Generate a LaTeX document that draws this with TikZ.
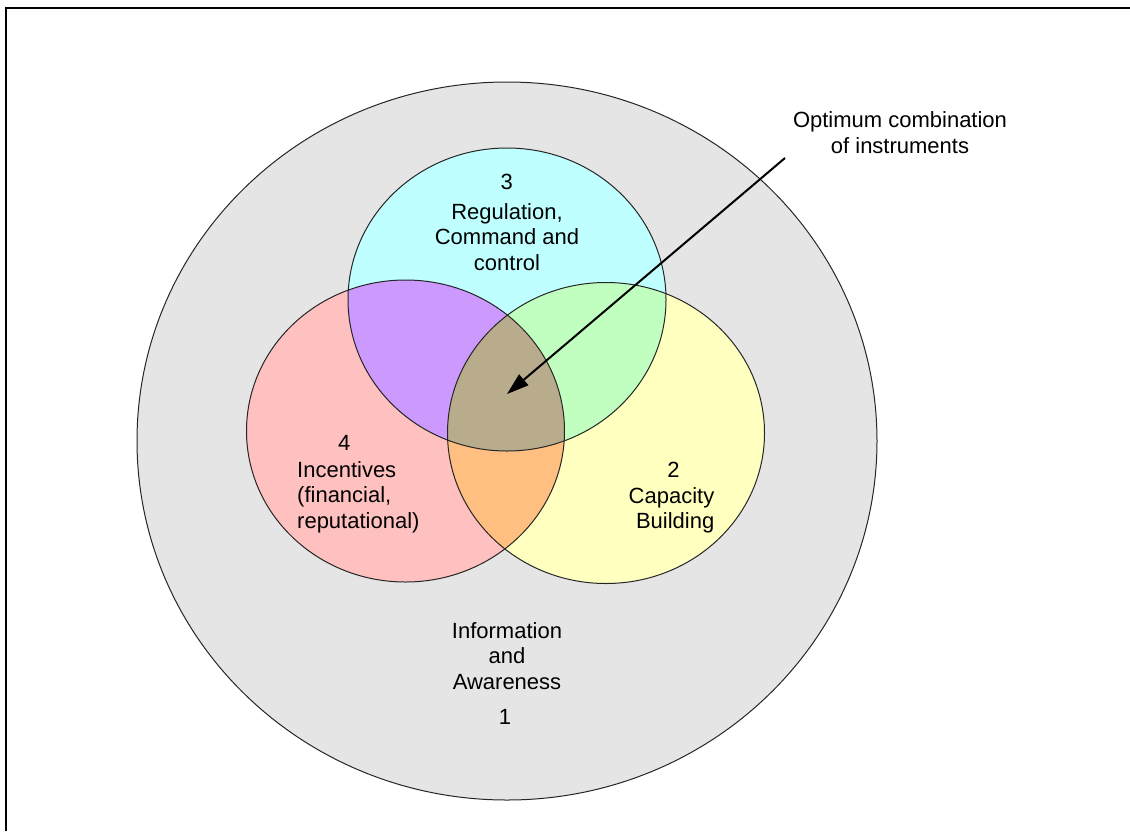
\documentclass[tikz,border=0pt]{standalone}
\usepackage{fontspec}
\setmainfont{Liberation Sans}
\usetikzlibrary{arrows.meta}
\definecolor{outergray}{HTML}{E5E5E5}
\definecolor{regcyan}{HTML}{C0FFFF}
\definecolor{incpink}{HTML}{FFC0C0}
\definecolor{capyellow}{HTML}{FFFFC0}
\definecolor{ovpurple}{HTML}{CC99FF}
\definecolor{ovgreen}{HTML}{C0FFC0}
\definecolor{ovorange}{HTML}{FFBF80}
\definecolor{ovbrown}{HTML}{B8AC8D}
\tikzset{
  outline/.style={draw=black!85, line width=1pt},
  lbl/.style={inner sep=0pt, align=center, font=\fontsize{22}{25.5}\selectfont},
  pointer/.style={line width=2pt, -{Triangle[length=22pt,width=14pt]}},
  frameline/.style={line width=2pt}
}
\begin{document}
\begin{tikzpicture}[x=1pt,y=-1pt]
\useasboundingbox (0,0) rectangle (1130,831);
% frame
\coordinate (frameTR) at (1130,7.7);
\coordinate (frameTL) at (6,7.7);
\coordinate (frameBL) at (6,831);
\draw[frameline] (frameTR) -- (frameTL) -- (frameBL);
% outer circle
\fill[outergray] (507,441) ellipse [x radius=370, y radius=359];
% base ellipses
\def\regpath{(507,299.5) ellipse [x radius=159, y radius=151.5]}
\def\incpath{(405.5,431) ellipse [x radius=159, y radius=151]}
\def\cappath{(606,433) ellipse [x radius=158.5, y radius=150.5]}
\fill[incpink] \incpath;
\fill[capyellow] \cappath;
\fill[regcyan] \regpath;
\begin{scope}
  \clip \regpath;
  \fill[ovpurple] \incpath;
  \fill[ovgreen] \cappath;
\end{scope}
\begin{scope}
  \clip \incpath;
  \fill[ovorange] \cappath;
\end{scope}
\begin{scope}
  \clip \regpath;
  \clip \incpath;
  \fill[ovbrown] \cappath;
\end{scope}
% outlines
\draw[outline] (507,441) ellipse [x radius=370, y radius=359];
\draw[outline] \regpath;
\draw[outline] \incpath;
\draw[outline] \cappath;
% labels
\node[lbl] (n3) at (506.7,181.7) {3};
\node[lbl] (reg) at (507,236.7) {Regulation,\\Command and\\control};
\node[lbl] (n4) at (344.3,443.3) {4};
\node[lbl, align=left, anchor=west] (inc) at (297,497) {Incentives\\(financial,\\reputational)};
\node[lbl] (n2) at (673.6,470) {2};
\node[lbl, align=right, anchor=east] (cap) at (714.5,510.5) {Capacity\\Building};
\node[lbl] (info) at (507,656) {Information\\and\\Awareness};
\node[lbl] (n1) at (505,716.7) {1};
\node[lbl] (opt) at (900,132.5) {Optimum combination\\of instruments};
% arrow
\coordinate (arrowstart) at (785,158);
\coordinate (optimum) at (507,394);
\draw[pointer] (arrowstart) -- (optimum);
\end{tikzpicture}
\end{document}
